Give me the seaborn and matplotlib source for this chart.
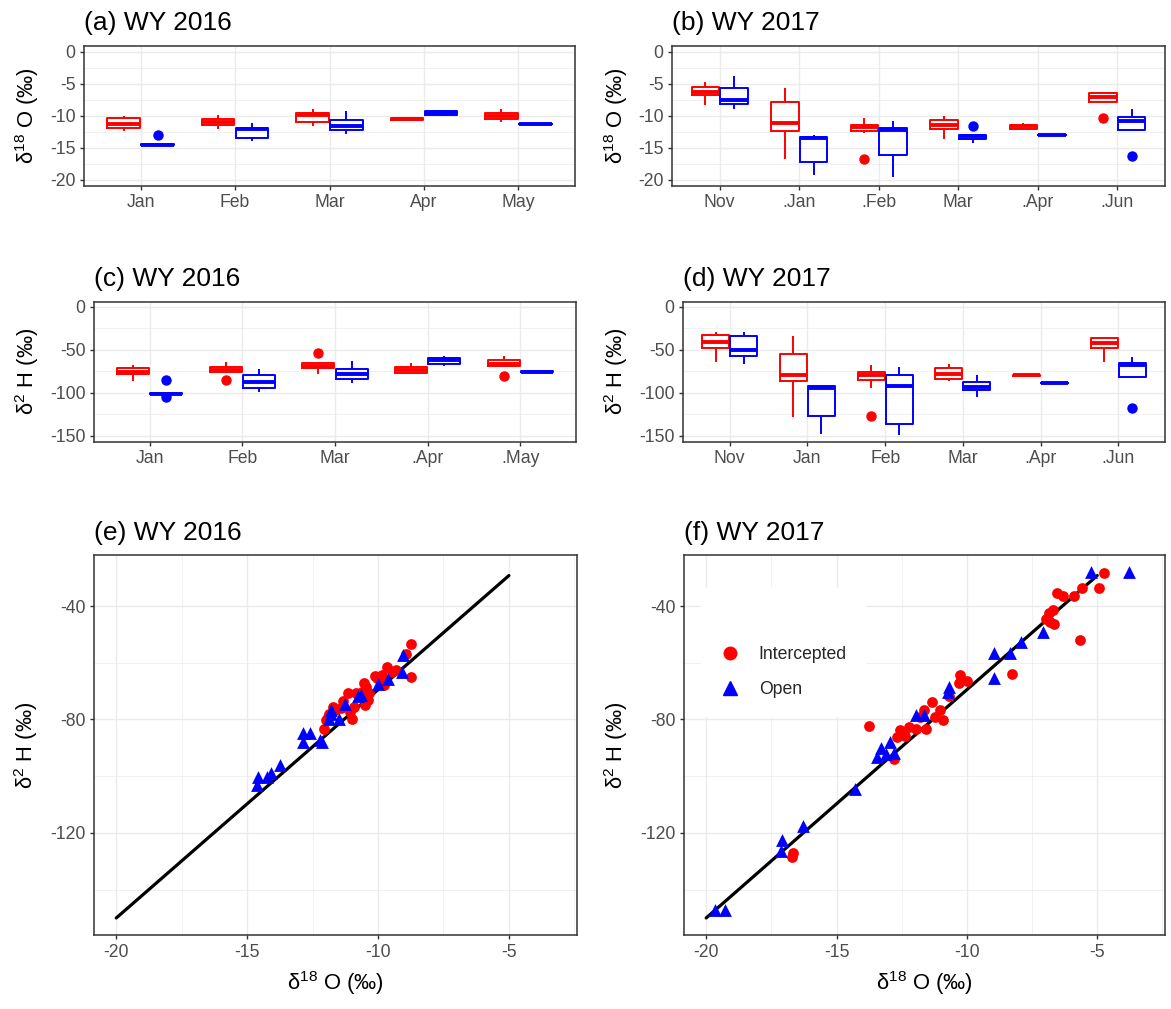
import numpy as np
import pandas as pd
import matplotlib
matplotlib.use("Agg")
import matplotlib.pyplot as plt
import seaborn as sns
from matplotlib.ticker import MultipleLocator
from matplotlib.lines import Line2D

# ---------------- data ----------------
sites = ["Intercepted", "Open"]
site_colors = {"Intercepted": "#FF0000", "Open": "#0000FF"}

months_2016 = ["Jan", "Feb", "Mar", "Apr", "May"]
months_2017 = ["Nov", "Jan", "Feb", "Mar", "Apr", "Jun"]
ticklabels_a = ["Jan", "Feb", "Mar", "Apr", "May"]
ticklabels_b = ["Nov", ".Jan", ".Feb", "Mar", ".Apr", ".Jun"]
ticklabels_c = ["Jan", "Feb", "Mar", ".Apr", ".May"]
ticklabels_d = ["Nov", "Jan", "Feb", "Mar", ".Apr", ".Jun"]

# monthly samples, d18O (permil), WY 2016
d18o_2016_intercepted = [
    [-12.3, -11.95, -11.2, -10.4, -10.0],
    [-12.0, -11.45, -11.0, -10.5, -9.9],
    [-11.55, -10.9, -9.85, -9.6, -8.9],
    [-10.8, -10.7, -10.5, -10.3, -10.25],
    [-10.9, -10.5, -10.0, -9.55, -9.0],
]
d18o_2016_open = [
    [-14.65, -14.6, -14.6, -14.55, -14.5, -14.45, -14.4, -14.4, -12.95],
    [-14.0, -13.5, -12.1, -11.9, -11.1],
    [-12.85, -12.2, -11.65, -10.6, -9.2],
    [-10.0, -9.9, -9.6, -9.3, -9.2],
    [-11.35, -11.3, -11.28, -11.25, -11.2],
]
# monthly samples, d18O (permil), WY 2017
d18o_2017_intercepted = [
    [-8.25, -6.75, -6.2, -5.55, -4.75],
    [-16.7, -12.4, -11.1, -7.9, -5.7],
    [-16.7, -12.7, -12.3, -12.05, -11.8, -11.65, -11.5, -10.9, -10.4],
    [-13.6, -12.1, -11.5, -10.7, -10.05],
    [-12.2, -12.0, -11.6, -11.35, -11.1],
    [-10.3, -7.8, -7.8, -7.4, -7.0, -6.7, -6.4, -6.4, -6.4],
]
d18o_2017_open = [
    [-8.9, -8.2, -7.5, -5.7, -3.8],
    [-19.3, -17.25, -13.4, -13.25, -13.0],
    [-19.6, -16.1, -12.2, -11.85, -10.8],
    [-14.3, -13.8, -13.6, -13.4, -13.2, -13.05, -12.95, -12.95, -11.65],
    [-13.03, -13.02, -13.0, -12.98, -12.97],
    [-16.3, -12.2, -12.2, -11.5, -10.8, -10.5, -10.2, -9.6, -9.0],
]
# monthly samples, d2H (permil), WY 2016
d2h_2016_intercepted = [
    [-86.0, -78.3, -75.6, -71.3, -67.4],
    [-85.5, -77.0, -75.5, -74.5, -73.6, -72.0, -70.5, -67.0, -64.7],
    [-77.5, -74.0, -71.0, -69.5, -68.2, -66.5, -65.0, -65.0, -53.5],
    [-76.4, -76.4, -72.9, -69.4, -65.1],
    [-80.5, -68.5, -68.5, -67.5, -67.0, -64.0, -62.0, -59.5, -57.4],
]
d2h_2016_open = [
    [-104.7, -101.5, -101.5, -101.0, -100.8, -100.5, -100.0, -100.0, -85.3],
    [-98.8, -94.6, -87.6, -79.8, -72.0],
    [-88.0, -83.7, -78.3, -71.7, -63.2],
    [-68.2, -66.0, -62.0, -60.0, -57.4],
    [-75.5, -75.3, -75.2, -75.1, -75.0],
]
# monthly samples, d2H (permil), WY 2017
d2h_2017_intercepted = [
    [-64.0, -47.3, -40.7, -33.3, -28.7],
    [-128.0, -86.4, -79.8, -54.3, -33.7],
    [-127.0, -93.8, -84.5, -82.0, -79.8, -78.0, -76.0, -72.0, -67.4],
    [-86.0, -83.7, -78.3, -71.3, -67.0],
    [-80.5, -80.2, -79.8, -79.5, -79.2],
    [-64.0, -48.4, -41.9, -36.0, -36.0],
]
d2h_2017_open = [
    [-65.9, -57.4, -50.4, -33.7, -28.7],
    [-148.0, -127.0, -93.8, -91.5, -91.5],
    [-148.8, -135.7, -92.2, -78.7, -70.5],
    [-104.7, -96.9, -93.0, -87.2, -79.5],
    [-88.6, -88.5, -88.4, -88.3, -88.2],
    [-118.0, -82.0, -82.0, -75.0, -67.8, -66.5, -65.0, -61.0, -57.8],
]

# paired samples for the dual-isotope plots
wy2016_int_o18 = [-8.74, -8.95, -8.74, -9.64, -9.46, -9.83, -10.12, -9.93, -9.78, -10.55,
                  -10.45, -10.36, -10.62, -10.40, -10.50, -10.84, -11.13, -11.35, -10.91, -11.06,
                  -10.99, -11.42, -11.64, -11.71, -11.86, -12.00, -12.08, -11.90, -9.32, -10.04]
wy2016_int_h2 = [-53.5, -56.9, -64.9, -61.6, -63.2, -64.4, -64.7, -66.1, -67.9, -67.1,
                 -68.5, -70.8, -70.2, -73.2, -74.9, -70.8, -70.8, -73.4, -75.5, -77.3,
                 -80.0, -76.1, -76.7, -75.5, -77.9, -80.2, -83.2, -79.3, -62.6, -65.5]
wy2016_open_o18 = [-9.06, -9.10, -9.61, -10.00, -10.65, -10.77, -11.28, -11.50, -11.79, -11.86,
                   -11.79, -12.15, -12.22, -12.59, -12.88, -12.88, -13.75, -14.08, -14.26, -14.58,
                   -14.62]
wy2016_open_h2 = [-57.3, -63.2, -65.9, -67.5, -71.4, -71.8, -74.6, -80.0, -77.9, -80.0,
                  -76.5, -87.9, -87.1, -84.7, -84.9, -87.9, -96.1, -98.8, -100.2, -100.2,
                  -103.2]
wy2017_int_o18 = [-4.74, -4.93, -5.60, -5.90, -6.32, -6.53, -5.67, -6.69, -6.86, -6.96,
                  -6.67, -6.82, -8.25, -10.26, -10.01, -10.30, -10.69, -11.33, -11.63, -11.02,
                  -11.23, -10.92, -11.81, -11.55, -11.95, -12.23, -12.55, -12.69, -12.38, -13.74,
                  -12.81, -16.68, -16.72]
wy2017_int_h2 = [-28.2, -33.8, -33.5, -36.4, -36.4, -35.5, -51.8, -41.4, -42.4, -44.4,
                 -46.4, -45.5, -63.8, -64.4, -66.5, -67.3, -71.8, -73.8, -76.7, -76.7,
                 -79.1, -80.2, -79.1, -83.2, -83.5, -82.8, -83.8, -86.1, -85.9, -82.2,
                 -94.1, -127.1, -128.5]
wy2017_open_o18 = [-5.24, -3.78, -7.08, -7.91, -8.34, -8.97, -8.94, -10.69, -10.73, -11.95,
                   -11.66, -12.95, -13.31, -13.45, -13.09, -12.81, -14.31, -16.28, -17.11, -17.13,
                   -19.68, -19.28]
wy2017_open_h2 = [-27.9, -27.9, -49.1, -52.8, -56.7, -56.7, -65.3, -68.5, -70.2, -78.5,
                  -78.5, -87.9, -90.0, -93.4, -92.0, -91.8, -104.4, -117.5, -122.6, -126.5,
                  -147.3, -147.3]

# meteoric water line
mwl_slope = 8.05
mwl_intercept = 11.0
mwl_o18 = [-20.0, -5.0]

# ---------------- style ----------------
sns.set_theme(style="white")
plt.rcParams["font.family"] = ["Liberation Sans", "DejaVu Sans"]
plt.rcParams["mathtext.default"] = "regular"
plt.rcParams["axes.unicode_minus"] = False

W, H = 1171, 1009
fig = plt.figure(figsize=(W / 100, H / 100), dpi=100)
fig.patch.set_facecolor("white")

GRID = "#EBEBEB"
TICK_FS = 12.7
LAB_FS = 15.8
TITLE_FS = 19

O18_LABEL = r"$\mathregular{\delta^{18}}$ O (‰)"
H2_LABEL = r"$\mathregular{\delta^{2}}$ H (‰)"


def place(l, r, t, b):
    return fig.add_axes([l / W, 1 - b / H, (r - l) / W, (b - t) / H])


def style_axes(ax):
    for s in ax.spines.values():
        s.set_visible(True)
        s.set_color("#333333")
        s.set_linewidth(1.1)
    ax.tick_params(which="major", bottom=True, left=True, direction="out", length=3.2,
                   width=1.0, color="#333333", labelsize=TICK_FS, labelcolor="#4D4D4D", pad=3.0)
    ax.tick_params(which="minor", bottom=False, left=False, length=0)
    ax.grid(which="major", color=GRID, lw=1.0)
    ax.grid(which="minor", color=GRID, lw=0.5)
    ax.set_axisbelow(True)
    ax.set_facecolor("white")


def set_ylabel(ax, text, box, x_px):
    l, r, t, b = box
    ax.set_ylabel(text, fontsize=LAB_FS, color="black", va="center")
    ax.yaxis.set_label_coords((x_px - l) / (r - l), 0.5)


def box_panel(box, months, ticklabels, vals_int, vals_open, ylim, major, title, ylabel, ylab_x):
    ax = place(*box)
    rows = []
    for site, vals in zip(sites, [vals_int, vals_open]):
        for m, sample in zip(months, vals):
            rows += [(m, site, v) for v in sample]
    df = pd.DataFrame(rows, columns=["month", "site", "value"])
    sns.boxplot(data=df, x="month", y="value", hue="site", order=months, hue_order=sites,
                palette=site_colors, fill=False, width=0.72, gap=0.04, linewidth=1.4,
                showcaps=False, whis=1.5,
                flierprops=dict(marker="o", markersize=6.5),
                medianprops=dict(linewidth=2.8), legend=False, ax=ax)
    for ln in ax.lines:
        if ln.get_marker() == "o":
            ln.set_markerfacecolor(ln.get_markeredgecolor())
    style_axes(ax)
    ax.set_xlim(-0.6, len(months) - 0.4)
    ax.set_ylim(*ylim)
    ax.yaxis.set_major_locator(MultipleLocator(major))
    ax.yaxis.set_minor_locator(MultipleLocator(major / 2))
    ax.set_xticks(range(len(months)))
    ax.set_xticklabels(ticklabels)
    ax.grid(which="major", axis="x", color=GRID, lw=1.0)
    ax.set_xlabel("")
    ax.set_title(title, loc="left", fontsize=TITLE_FS, pad=11, color="black")
    set_ylabel(ax, ylabel, box, ylab_x)
    return ax


def scatter_panel(box, o_int, h_int, o_open, h_open, title, ylab_x, legend):
    ax = place(*box)
    sns.lineplot(x=mwl_o18, y=[mwl_slope * v + mwl_intercept for v in mwl_o18],
                 color="black", lw=2.3, ax=ax, zorder=2)
    sns.scatterplot(x=o_int, y=h_int, marker="o", s=60, color=site_colors["Intercepted"],
                    linewidth=0, ax=ax, zorder=3)
    sns.scatterplot(x=o_open, y=h_open, marker="^", s=85, color=site_colors["Open"],
                    linewidth=0, ax=ax, zorder=4)
    style_axes(ax)
    ax.set_xlim(-20.85, -2.4)
    ax.set_ylim(-156.0, -22.0)
    ax.xaxis.set_major_locator(MultipleLocator(5))
    ax.xaxis.set_minor_locator(MultipleLocator(2.5))
    ax.yaxis.set_major_locator(MultipleLocator(40))
    ax.yaxis.set_minor_locator(MultipleLocator(20))
    ax.set_title(title, loc="left", fontsize=TITLE_FS, pad=11, color="black")
    set_ylabel(ax, H2_LABEL, box, ylab_x)
    l, r, t, b = box
    ax.set_xlabel(O18_LABEL, fontsize=LAB_FS, color="black", va="center")
    ax.xaxis.set_label_coords(0.5, (b - 983) / (b - t))
    if legend:
        handles = [
            Line2D([], [], marker="o", ls="", color=site_colors["Intercepted"], markersize=9),
            Line2D([], [], marker="^", ls="", color=site_colors["Open"], markersize=10),
        ]
        leg = ax.legend(handles, sites, loc="upper left", bbox_to_anchor=(0.036, 0.913),
                        fontsize=TICK_FS, frameon=True, fancybox=False, framealpha=1,
                        edgecolor="white", facecolor="white", borderpad=1.1,
                        handlelength=1.0, handletextpad=1.15, labelspacing=1.0,
                        title=" ", title_fontsize=16, borderaxespad=0)
        leg.get_frame().set_linewidth(0)
    return ax


box_a = (84, 575, 45.7, 185.7)
box_b = (672, 1165, 45.7, 185.7)
box_c = (94, 576, 301.7, 441.7)
box_d = (683, 1165, 301.7, 441.7)
box_e = (94, 577, 555, 935)
box_f = (684, 1165, 555, 935)

box_panel(box_a, months_2016, ticklabels_a, d18o_2016_intercepted, d18o_2016_open,
          (-20.9, 0.95), 5, "(a) WY 2016", O18_LABEL, 26.6)
box_panel(box_b, months_2017, ticklabels_b, d18o_2017_intercepted, d18o_2017_open,
          (-20.9, 0.95), 5, "(b) WY 2017", O18_LABEL, 616)
box_panel(box_c, months_2016, ticklabels_c, d2h_2016_intercepted, d2h_2016_open,
          (-156.8, 6.0), 50, "(c) WY 2016", H2_LABEL, 27.5)
box_panel(box_d, months_2017, ticklabels_d, d2h_2017_intercepted, d2h_2017_open,
          (-156.8, 6.0), 50, "(d) WY 2017", H2_LABEL, 616)

scatter_panel(box_e, wy2016_int_o18, wy2016_int_h2, wy2016_open_o18, wy2016_open_h2,
              "(e) WY 2016", 26, legend=False)
scatter_panel(box_f, wy2017_int_o18, wy2017_int_h2, wy2017_open_o18, wy2017_open_h2,
              "(f) WY 2017", 616, legend=True)

fig.savefig("out.png", dpi=100, facecolor="white")
